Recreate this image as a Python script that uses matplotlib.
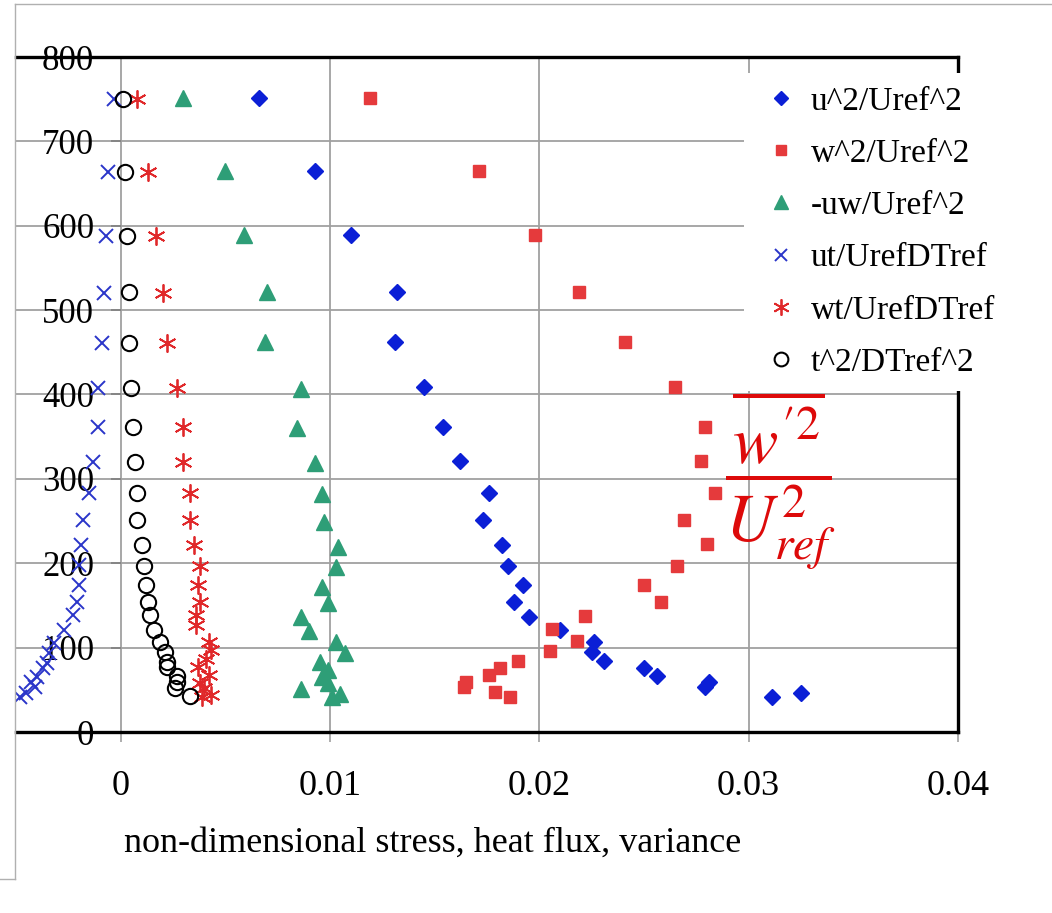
import matplotlib
matplotlib.use("Agg")
import matplotlib.pyplot as plt
from matplotlib.lines import Line2D

plt.rcParams['font.family'] = ['Liberation Serif', 'DejaVu Serif']
plt.rcParams['mathtext.fontset'] = 'stix'

# u'^2 / Uref^2
u2_x = [0.0066, 0.0093, 0.0110, 0.0132, 0.0131, 0.0145, 0.0154, 0.0162, 0.0176, 0.0173, 0.0182, 0.0185, 0.0192,
        0.0188, 0.0195, 0.0210, 0.0226, 0.0225, 0.0231, 0.0250, 0.0256, 0.0281, 0.0279, 0.0311, 0.0325]
u2_z = [751, 665, 589, 521, 462, 409, 362, 321, 283, 251, 222, 197, 174, 154, 136, 121, 107, 95, 84, 76, 66, 59, 53, 41, 46]

# w'^2 / Uref^2
w2_x = [0.0119, 0.0171, 0.0198, 0.0219, 0.0241, 0.0265, 0.0279, 0.0277, 0.0284, 0.0269, 0.0280, 0.0266, 0.0250,
        0.0258, 0.0222, 0.0206, 0.0218, 0.0205, 0.0190, 0.0181, 0.0176, 0.0165, 0.0164, 0.0179, 0.0186]
w2_z = [751, 665, 589, 521, 462, 409, 361, 321, 283, 251, 223, 197, 174, 154, 137, 122, 108, 96, 84, 76, 67, 59, 53, 47, 41]

# -u'w' / Uref^2
uw_x = [0.0030, 0.0050, 0.0059, 0.0070, 0.0069, 0.0086, 0.0084, 0.0093, 0.0096, 0.0097, 0.0104, 0.0103, 0.0096,
        0.0099, 0.0086, 0.0090, 0.0103, 0.0107, 0.0095, 0.0099, 0.0096, 0.0099, 0.0086, 0.0105, 0.0101]
uw_z = [751, 665, 589, 521, 462, 406, 360, 319, 282, 249, 219, 196, 172, 153, 136, 120, 107, 94, 83, 73, 65, 58, 51, 45, 41]

# u't' / (Uref DTref)
ut_x = [-0.0003, -0.0006, -0.0007, -0.0008, -0.0009, -0.0011, -0.0011, -0.0013, -0.0015, -0.0018, -0.0019, -0.0020,
        -0.0020, -0.0021, -0.0023, -0.0027, -0.0032, -0.0034, -0.0035, -0.0037, -0.0040, -0.0043, -0.0041, -0.0045, -0.0048]
ut_z = [750, 664, 588, 520, 461, 408, 362, 320, 283, 251, 222, 198, 174, 154, 139, 121, 105, 94, 82, 76, 65, 59, 53, 46, 41]

# w't' / (Uref DTref)
wt_x = [0.0008, 0.0013, 0.0017, 0.0020, 0.0022, 0.0027, 0.0030, 0.0030, 0.0033, 0.0033, 0.0035, 0.0038, 0.0037,
        0.0038, 0.0036, 0.0036, 0.0042, 0.0043, 0.0041, 0.0037, 0.0042, 0.0038, 0.0040, 0.0043, 0.0039]
wt_z = [750, 664, 588, 520, 461, 408, 362, 320, 283, 251, 222, 197, 174, 154, 139, 127, 107, 97, 86, 77, 68, 58, 52, 44, 41]

# t'^2 / DTref^2
t2_x = [0.0001, 0.0002, 0.0003, 0.0004, 0.0004, 0.0005, 0.0006, 0.0007, 0.0008, 0.0008, 0.0010, 0.0011, 0.0012,
        0.0013, 0.0014, 0.0016, 0.0019, 0.0021, 0.0022, 0.0022, 0.0027, 0.0027, 0.0026, 0.0033]
t2_z = [750, 664, 588, 521, 461, 408, 362, 320, 283, 251, 222, 197, 174, 154, 139, 121, 107, 95, 83, 77, 66, 59, 52, 43]

xticks = [0, 0.01, 0.02, 0.03, 0.04]
xtick_labels = ['0', '0.01', '0.02', '0.03', '0.04']
yticks = [0, 100, 200, 300, 400, 500, 600, 700, 800]

W, H = 1052, 913
fig = plt.figure(figsize=(W / 100, H / 100), dpi=100)
ax = fig.add_axes([16 / W, 181 / H, 942 / W, 675 / H])

ax.plot(u2_x, u2_z, ls='none', marker='D', ms=8, color='#0b1fd6', mec='#0b1fd6', label='u^2/Uref^2')
ax.plot(w2_x, w2_z, ls='none', marker='s', ms=8, color='#e53a3c', mec='#e53a3c', label='w^2/Uref^2')
ax.plot(uw_x, uw_z, ls='none', marker='^', ms=11, color='#2e9e77', mec='#2e9e77', label='-uw/Uref^2')
ax.plot(ut_x, ut_z, ls='none', marker='x', ms=10, mew=1.4, color='#2a35c9', label='ut/UrefDTref')
ax.plot(wt_x, wt_z, ls='none', marker=(6, 2, 0), ms=13, mew=1.3, color='#e0282a', label='wt/UrefDTref')
ax.plot(t2_x, t2_z, ls='none', marker='o', ms=11, mew=1.5, mfc='none', mec='black', label='t^2/DTref^2')

ax.set_xlim(-0.005, 0.04)
ax.set_ylim(0, 800)
ax.set_xticks(xticks)
ax.set_xticklabels(xtick_labels)
ax.set_yticks(yticks)

ax.set_axisbelow(True)
ax.grid(True, color='#a0a0a0', lw=1.3)

for side in ['top', 'right', 'bottom']:
    ax.spines[side].set_color('black')
    ax.spines[side].set_linewidth(2.4)
ax.spines['left'].set_position(('data', 0))
ax.spines['left'].set_visible(False)

ax.tick_params(axis='x', direction='out', length=7, width=1.2, color='#a0a0a0', pad=20, labelsize=26)
ax.tick_params(axis='y', direction='out', length=7, width=1.2, color='#808080', pad=12, labelsize=25)

leg = ax.legend(loc='upper left', bbox_to_anchor=((744 - 16) / 942, (732 - 73) / 675), fontsize=24,
                frameon=True, fancybox=False, edgecolor='none', framealpha=1, borderaxespad=0,
                handlelength=1.4, handletextpad=0.2, labelspacing=0.65, markerscale=0.9, borderpad=0.4)

fig.text(433 / W, 1 - 843 / H, 'non-dimensional stress, heat flux, variance', fontsize=26,
         ha='center', va='center')

fig.text(780 / W, 1 - 480 / H, r'$\dfrac{\overline{w^{\prime 2}}}{U_{ref}^{2}}$', fontsize=49,
         color='#dd0a0a', ha='center', va='center')

# thin outer frame
fig.add_artist(Line2D([15 / W, 15 / W], [1 - 4 / H, 1 - 879 / H], transform=fig.transFigure, color='#b0b0b0', lw=1))
fig.add_artist(Line2D([15 / W, 1], [1 - 4 / H, 1 - 4 / H], transform=fig.transFigure, color='#b0b0b0', lw=1))
fig.add_artist(Line2D([0, 15 / W], [1 - 879 / H, 1 - 879 / H], transform=fig.transFigure, color='#b0b0b0', lw=1))

fig.savefig('out.png', dpi=100)
